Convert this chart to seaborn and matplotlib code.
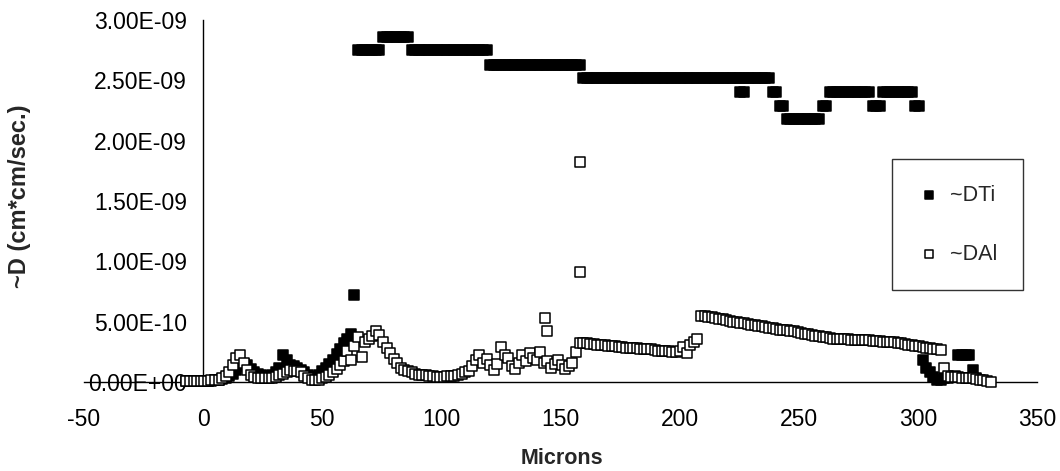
import numpy as np
import pandas as pd
import matplotlib
matplotlib.use("Agg")
import matplotlib.pyplot as plt
import seaborn as sns

# Scan positions (microns), one sample every 1.5 microns: -7 .. 330.5
microns = np.arange(-7, 331, 1.5)

# ~DTi (units of 1e-10 cm*cm/sec) before the plateau, x = -7 .. 63.5
dti_low_left = [
    0.1, 0.1, 0.1, 0.1, 0.1, 0.1, 0.1, 0.1, 0.15, 0.2, 0.25,
    0.35, 0.5, 0.7, 1.0, 1.3, 1.5, 1.4, 1.1, 0.8, 0.7,
    0.6, 0.5, 0.5, 0.6, 0.8, 1.2, 2.2, 1.8, 1.4, 1.3,
    1.2, 1.0, 0.8, 0.6, 0.4, 0.4, 0.6, 0.9, 1.2, 1.5,
    1.8, 2.3, 2.7, 3.2, 3.6, 4.0, 7.2,
]
# ~DTi plateau (units of 1e-9) as level / number-of-samples runs, x = 65 .. 300.5
dti_band_levels = [2.75, 2.86, 2.75, 2.63, 2.52, 2.40, 2.29, 2.18, 2.29, 2.40, 2.29, 2.40, 2.29]
dti_band_runs = [7, 8, 22, 26, 53, 2, 2, 10, 2, 12, 3, 9, 2]
# ~DTi tail (units of 1e-10), x = 302 .. 324.5
dti_low_right = [1.8, 1.2, 0.8, 0.4, 0.2, 0.2, 0.3, 0.3, 0.4, 0.5,
                 2.24, 2.24, 2.24, 2.24, 1.0, 0.3]
# second reading inside the 2.52 plateau
dti_extra_x = [225.5, 227]
dti_extra_y = [2.40, 2.40]  # 1e-9

# ~DAl (units of 1e-10), one value per scan position
dal_values = [
    0.1, 0.1, 0.1, 0.1, 0.1, 0.1, 0.1, 0.15, 0.15, 0.2, 0.3,
    0.5, 0.85, 1.4, 2.0, 2.2, 1.6, 1.0, 0.6, 0.45, 0.35,
    0.3, 0.3, 0.3, 0.35, 0.4, 0.55, 0.7, 0.85, 1.0, 0.95,
    0.9, 0.8, 0.5, 0.3, 0.2, 0.15, 0.2, 0.3, 0.4, 0.6,
    0.85, 1.1, 1.4, 1.7, 2.6, 1.8, 3.0, 3.7, 2.1, 3.3,
    3.6, 3.8, 4.2, 3.9, 3.3, 2.8, 2.4, 1.9, 1.6, 1.2,
    1.0, 0.9, 0.8, 0.7, 0.62, 0.58, 0.55, 0.5, 0.47, 0.45,
    0.45, 0.45, 0.48, 0.5, 0.52, 0.6, 0.7, 0.8, 0.95, 1.3,
    1.8, 2.2, 1.6, 1.9, 1.4, 1.0, 1.5, 2.9, 2.2, 2.0,
    1.3, 1.1, 1.6, 2.2, 1.7, 2.4, 2.0, 1.8, 2.5, 1.6,
    1.7, 1.2, 1.5, 1.8, 1.4, 1.1, 1.3, 1.55, 2.5, 3.2,
    3.2, 3.2, 3.15, 3.15, 3.1, 3.05, 3.05, 3.0, 3.0, 2.95,
    2.9, 2.9, 2.85, 2.85, 2.8, 2.8, 2.75, 2.75, 2.7, 2.7,
    2.65, 2.6, 2.6, 2.55, 2.55, 2.5, 2.5, 2.6, 2.9, 2.4,
    3.1, 3.3, 3.6, 5.5, 5.45, 5.4, 5.35, 5.3, 5.25, 5.2,
    5.15, 5.05, 5.0, 4.95, 4.9, 4.85, 4.8, 4.75, 4.7, 4.65,
    4.6, 4.55, 4.5, 4.45, 4.4, 4.35, 4.35, 4.3, 4.25, 4.2,
    4.15, 4.1, 4.0, 3.95, 3.9, 3.85, 3.8, 3.75, 3.7, 3.65,
    3.6, 3.6, 3.6, 3.55, 3.55, 3.5, 3.5, 3.5, 3.45, 3.45,
    3.45, 3.4, 3.4, 3.4, 3.35, 3.35, 3.3, 3.3, 3.25, 3.2,
    3.15, 3.1, 3.05, 3.0, 2.95, 2.9, 2.85, 2.8, 2.75, 2.7,
    2.65, 1.2, 0.5, 0.45, 0.42, 0.4, 0.35, 0.33, 0.3, 0.3,
    0.25, 0.2, 0.15, 0.1, 0.0,
]
# isolated ~DAl readings
dal_extra_x = [143.5, 144.5, 158, 158]
dal_extra_y = [5.3, 4.2, 18.2, 9.1]  # 1e-10

x_ticks = [-50, 0, 50, 100, 150, 200, 250, 300, 350]
y_ticks = [0, 5e-10, 1e-9, 1.5e-9, 2e-9, 2.5e-9, 3e-9]

# assemble the two series
dti_vals = np.concatenate([
    np.array(dti_low_left) * 1e-10,
    np.repeat(dti_band_levels, dti_band_runs) * 1e-9,
    np.array(dti_low_right) * 1e-10,
])
dti = pd.DataFrame({
    "Microns": np.concatenate([microns[:len(dti_vals)], dti_extra_x]),
    "D": np.concatenate([dti_vals, np.array(dti_extra_y) * 1e-9]),
})
dal = pd.DataFrame({
    "Microns": np.concatenate([microns[:len(dal_values)], dal_extra_x]),
    "D": np.concatenate([dal_values, dal_extra_y]) * 1e-10,
})

sns.set_style("white")
plt.rcParams["font.family"] = ["Liberation Sans", "DejaVu Sans"]

fig = plt.figure(figsize=(10.6, 4.71), dpi=100)
ax = fig.add_axes([84 / 1060, 89 / 471, 953 / 1060, 362 / 471])

mk = dict(marker="s", s=42, linewidth=1.1, edgecolor="black", clip_on=False)
sns.scatterplot(data=dti, x="Microns", y="D", color="black", label="~DTi", ax=ax, zorder=3, **mk)
sns.scatterplot(data=dal, x="Microns", y="D", color="white", label="~DAl", ax=ax, zorder=4, **mk)

ax.set_xlim(-50, 350)
ax.set_ylim(0, 3e-9)
ax.set_xticks(x_ticks)
ax.set_xticklabels([str(t) for t in x_ticks])
ax.set_yticks(y_ticks)
ax.set_yticklabels([f"{t:.2E}" for t in y_ticks])

for side in ("top", "right"):
    ax.spines[side].set_visible(False)
ax.spines["left"].set_position(("data", 0))
for side in ("left", "bottom"):
    ax.spines[side].set_linewidth(1.0)
    ax.spines[side].set_color("black")

ax.tick_params(axis="both", direction="inout", length=7.2, width=1.0,
               colors="black", labelsize=16.5)
ax.tick_params(axis="x", pad=15)
ax.tick_params(axis="y", pad=8)
ax.set_xlabel("")
ax.set_ylabel("")

fig.text(562 / 1060, 1 - 459 / 471, "Microns", ha="center", va="center",
         fontsize=15.5, fontweight="bold")
fig.text(20 / 1060, 1 - 196 / 471, "~D (cm*cm/sec.)", ha="center", va="center",
         rotation=90, fontsize=17, fontweight="bold")

leg = ax.legend(loc="upper left", bbox_to_anchor=(892 / 1060, 1 - 159 / 471),
                bbox_transform=fig.transFigure, frameon=True, fancybox=False,
                edgecolor="black", fontsize=15.5, borderpad=1.2, labelspacing=1.75,
                handlelength=1.0, handletextpad=0.5, markerscale=0.8,
                borderaxespad=0)
leg.get_frame().set_linewidth(1.0)

fig.savefig("out.png", dpi=100, facecolor="white")
